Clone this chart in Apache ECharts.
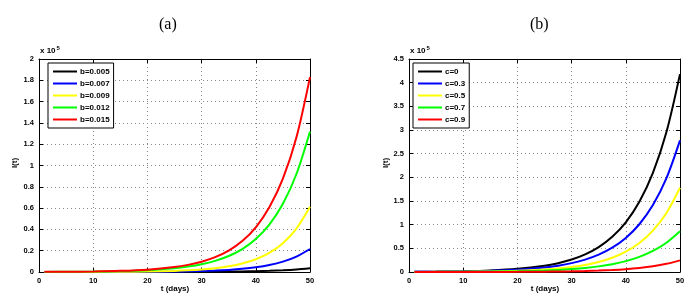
<!DOCTYPE html>
<html>
<head>
<meta charset="utf-8">
<script src="https://cdn.jsdelivr.net/npm/echarts@6/dist/echarts.min.js"></script>
<style>html,body{margin:0;padding:0;background:#fff}#c{width:698px;height:308px}</style>
</head>
<body>
<div id="c"></div>
<script>
// time points (days)
var tDays = [1, 5, 10, 15, 20, 25, 27.5, 30, 32.5, 35, 37.5, 40, 42.5, 45, 47.5, 50];
// Panel (a): I(t) in units of 1e5
var aNames = ['b=0.005', 'b=0.007', 'b=0.009', 'b=0.012', 'b=0.015'];
var a_b005 = [0.0001, 0.0001, 0.0001, 0.0002, 0.0004, 0.0008, 0.0012, 0.0017, 0.0025, 0.0037, 0.0054, 0.0078, 0.0114, 0.0165, 0.024, 0.035];
var a_b007 = [0.0002, 0.0002, 0.0004, 0.0008, 0.0018, 0.0041, 0.0061, 0.0090, 0.0134, 0.0199, 0.0296, 0.044, 0.0655, 0.0975, 0.145, 0.216];
var a_b009 = [0.0002, 0.0004, 0.0009, 0.0020, 0.0046, 0.0104, 0.0156, 0.0235, 0.0353, 0.0531, 0.0798, 0.12, 0.180, 0.271, 0.408, 0.612];
var a_b012 = [0.0011, 0.0019, 0.0040, 0.0083, 0.0171, 0.0352, 0.0506, 0.0727, 0.1044, 0.150, 0.2156, 0.31, 0.445, 0.640, 0.920, 1.32];
var a_b015 = [0.0013, 0.0024, 0.0051, 0.0107, 0.0222, 0.0463, 0.0669, 0.0966, 0.1393, 0.201, 0.2906, 0.42, 0.607, 0.876, 1.265, 1.83];
// Panel (b)
var bNames = ['c=0', 'c=0.3', 'c=0.5', 'c=0.7', 'c=0.9'];
var b_c0 = [0.0048, 0.0084, 0.0167, 0.0333, 0.0664, 0.132, 0.1867, 0.264, 0.373, 0.527, 0.744, 1.05, 1.483, 2.093, 2.956, 4.18];
var b_c3 = [0.0037, 0.0064, 0.0125, 0.0246, 0.0484, 0.0950, 0.1333, 0.187, 0.262, 0.367, 0.514, 0.72, 1.009, 1.414, 1.982, 2.78];
var b_c5 = [0.0017, 0.0030, 0.0061, 0.0124, 0.0251, 0.0511, 0.0729, 0.104, 0.148, 0.211, 0.301, 0.43, 0.613, 0.875, 1.247, 1.78];
var b_c7 = [0.0013, 0.0023, 0.0044, 0.0085, 0.0164, 0.0317, 0.0441, 0.0614, 0.0855, 0.119, 0.1654, 0.23, 0.320, 0.445, 0.619, 0.86];
var b_c9 = [0.0004, 0.0006, 0.0009, 0.0017, 0.0036, 0.0072, 0.0103, 0.0147, 0.0209, 0.0296, 0.0421, 0.06, 0.0854, 0.121, 0.173, 0.246];
var colors = ['#000000', '#0000ff', '#ffff00', '#00ff00', '#ff0000'];

function pairs(v) { return tDays.map(function (t, i) { return [t, v[i]]; }); }

var font = 'Liberation Sans, Arial, sans-serif';
function xAx(g, pos) {
  var top = pos === 'top';
  return {
    type: 'value', gridIndex: g, position: pos, min: 0, max: 50, interval: 10,
    axisLine: { show: true, onZero: false, lineStyle: { color: '#000', width: 1 } },
    axisTick: { show: true, inside: true, length: 4, lineStyle: { color: '#000' } },
    axisLabel: { show: !top, color: '#000', fontSize: 7.5, fontWeight: 'bold', fontFamily: font, margin: 5 },
    splitLine: { show: !top, lineStyle: { color: '#888', type: [1, 3], width: 1 } }
  };
}
function yAx(g, pos, max, iv) {
  var right = pos === 'right';
  return {
    type: 'value', gridIndex: g, position: pos, min: 0, max: max, interval: iv,
    axisLine: { show: true, onZero: false, lineStyle: { color: '#000', width: 1 } },
    axisTick: { show: true, inside: true, length: 4, lineStyle: { color: '#000' } },
    axisLabel: { show: !right, color: '#000', fontSize: 7.5, fontWeight: 'bold', fontFamily: font, margin: 5 },
    splitLine: { show: !right, lineStyle: { color: '#888', type: [1, 3], width: 1 } }
  };
}
function ser(name, data, ci, g) {
  return {
    type: 'line', name: name, data: pairs(data), xAxisIndex: g * 2, yAxisIndex: g * 2,
    symbol: 'none', smooth: 0.3,
    lineStyle: { color: colors[ci], width: 2 }, itemStyle: { color: colors[ci] }
  };
}
function leg(names, left) {
  return {
    data: names, orient: 'vertical', left: left, top: 63,
    padding: [4, 4, 4, 5], itemGap: 3, itemWidth: 24, itemHeight: 2, icon: 'rect',
    borderColor: '#000', borderWidth: 1, backgroundColor: '#fff',
    textStyle: { fontSize: 8, fontWeight: 'bold', fontFamily: font, color: '#000', lineHeight: 9, padding: [0, 0, 0, -2] }
  };
}

var chart = echarts.init(document.getElementById('c'));
chart.setOption({
  animation: false,
  backgroundColor: '#fff',
  grid: [
    { left: 39, right: 388, top: 59, bottom: 36 },
    { left: 409, right: 18, top: 59, bottom: 36 }
  ],
  xAxis: [xAx(0, 'bottom'), xAx(0, 'top'), xAx(1, 'bottom'), xAx(1, 'top')],
  yAxis: [yAx(0, 'left', 2, 0.2), yAx(0, 'right', 2, 0.2), yAx(1, 'left', 4.5, 0.5), yAx(1, 'right', 4.5, 0.5)],
  legend: [leg(aNames, 48), leg(bNames, 413)],
  series: [
    ser(aNames[0], a_b005, 0, 0), ser(aNames[1], a_b007, 1, 0), ser(aNames[2], a_b009, 2, 0),
    ser(aNames[3], a_b012, 3, 0), ser(aNames[4], a_b015, 4, 0),
    ser(bNames[0], b_c0, 0, 1), ser(bNames[1], b_c3, 1, 1), ser(bNames[2], b_c5, 2, 1),
    ser(bNames[3], b_c7, 3, 1), ser(bNames[4], b_c9, 4, 1)
  ],
  graphic: [
    { type: 'text', left: 159, top: 17, style: { text: '(a)', font: '16px "Liberation Serif", "Times New Roman", serif', fill: '#000' } },
    { type: 'text', left: 530, top: 17, style: { text: '(b)', font: '16px "Liberation Serif", "Times New Roman", serif', fill: '#000' } },
    { type: 'text', left: 40, top: 45, style: { text: 'x 10{s|5}', font: 'bold 8px ' + font, fill: '#000', rich: { s: { fontSize: 6, fontWeight: 'bold', verticalAlign: 'top', padding: [0, 0, 6, 1] } } } },
    { type: 'text', left: 410, top: 45, style: { text: 'x 10{s|5}', font: 'bold 8px ' + font, fill: '#000', rich: { s: { fontSize: 6, fontWeight: 'bold', verticalAlign: 'top', padding: [0, 0, 6, 1] } } } },
    { type: 'text', x: 15, y: 163, rotation: Math.PI / 2, style: { text: 'I(t)', font: 'bold 8px ' + font, fill: '#000', align: 'center', verticalAlign: 'middle' } },
    { type: 'text', x: 386, y: 163, rotation: Math.PI / 2, style: { text: 'I(t)', font: 'bold 8px ' + font, fill: '#000', align: 'center', verticalAlign: 'middle' } },
    { type: 'text', x: 175, y: 289, style: { text: 't (days)', font: 'bold 8px ' + font, fill: '#000', align: 'center', verticalAlign: 'middle' } },
    { type: 'text', x: 545, y: 289, style: { text: 't (days)', font: 'bold 8px ' + font, fill: '#000', align: 'center', verticalAlign: 'middle' } }
  ]
});
</script>
</body>
</html>
